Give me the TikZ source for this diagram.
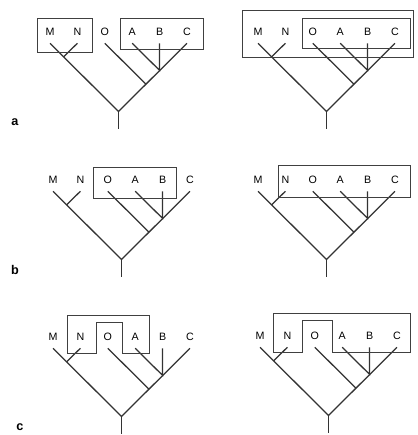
\documentclass[tikz,border=0pt]{standalone}
\usepackage{fontspec}
\setsansfont{Liberation Sans}
\usepackage{tikz}

\begin{document}
\begin{tikzpicture}[
    x=0.25mm, y=-0.25mm,
    taxon/.style={font=\sffamily\fontsize{7.6}{9}\selectfont, inner sep=0pt, minimum height=5.5mm},
    branch/.style={line width=0.9pt, black!80},
    grp/.style={draw=black!75, line width=0.7pt},
    panel/.style={font=\sffamily\bfseries\small}
  ]
    \useasboundingbox (0,0) rectangle (417,435);
    % the same tree in all six panels
    \foreach \p/\x/\y in {aL/50/32, aR/258/32, bL/53/180, bR/258/180, cL/53/337, cR/260/336}{
      \begin{scope}[shift={(\x,\y)}]
        \foreach \t [count=\i from 0] in {M,N,O,A,B,C}
          \node[taxon] (\p\t) at (27.4*\i,0) {\t};
        \coordinate (\p root) at (68.5,79.5);
        \coordinate (\p stem) at (68.5,96.5);
        \coordinate (\p mn) at (13.7,24.7);
        \coordinate (\p o) at (95.9,52.1);
        \coordinate (\p abc) at (109.6,38.4);
      \end{scope}
      \draw[branch] (\p M.south) -- (\p root) -- (\p C.south);
      \draw[branch] (\p root) -- (\p stem);
      \draw[branch] (\p N.south) -- (\p mn);
      \draw[branch] (\p O.south) -- (\p o);
      \draw[branch] (\p A.south) -- (\p abc) -- (\p B.south);
    }
    % a
    \draw[grp] ([shift={(-13,-14)}]aLM.center) rectangle ([shift={(14.6,20)}]aLN.center);
    \draw[grp] ([shift={(-12,-14)}]aLA.center) rectangle ([shift={(16,17)}]aLC.center);
    \draw[grp] ([shift={(-16,-22)}]aRM.center) rectangle ([shift={(18,25)}]aRC.center);
    \draw[grp] ([shift={(-10,-14)}]aRO.center) rectangle ([shift={(15,16)}]aRC.center);
    % b
    \draw[grp] ([shift={(-14.8,-13)}]bLO.center) rectangle ([shift={(13.4,18)}]bLB.center);
    \draw[grp] ([shift={(-7.4,-15)}]bRN.center) rectangle ([shift={(15,17)}]bRC.center);
    % c
    \draw[grp] ([shift={(-13.4,16)}]cLN.center) |- ([shift={(14.5,-22)}]cLA.center)
      -- ([shift={(14.5,16)}]cLA.center) -| ([shift={(15,-15)}]cLO.center)
      -| ([shift={(-11,16)}]cLO.center) -- cycle;
    \draw[grp] ([shift={(-14.4,16)}]cRN.center) |- ([shift={(13,-23)}]cRC.center)
      -- ([shift={(13,16)}]cRC.center) -| ([shift={(17.2,-16)}]cRO.center)
      -| ([shift={(-12.8,16)}]cRO.center) -- cycle;
    \node[panel] (la) at (15,122) {a};
    \node[panel] (lb) at (15,270) {b};
    \node[panel] (lc) at (20,427) {c};
  \end{tikzpicture}
\end{document}
